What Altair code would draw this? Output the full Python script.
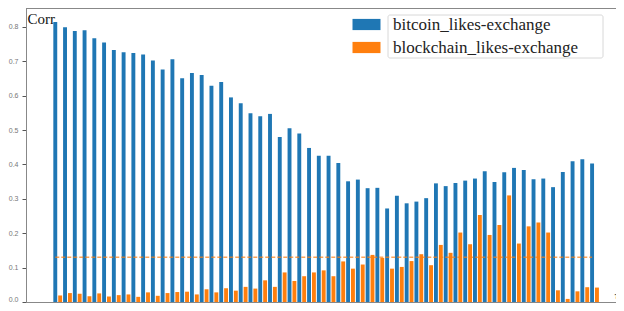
import altair as alt
import pandas as pd

lags = list(range(56))

bitcoin = [0.814, 0.799, 0.788, 0.790, 0.767, 0.755, 0.733, 0.726, 0.724, 0.720,
           0.702, 0.676, 0.706, 0.651, 0.666, 0.660, 0.629, 0.640, 0.595, 0.578,
           0.549, 0.540, 0.547, 0.480, 0.505, 0.490, 0.448, 0.425, 0.425, 0.404,
           0.351, 0.356, 0.331, 0.332, 0.272, 0.309, 0.287, 0.292, 0.302, 0.345,
           0.337, 0.346, 0.353, 0.359, 0.380, 0.349, 0.377, 0.390, 0.384, 0.357,
           0.359, 0.334, 0.378, 0.409, 0.415, 0.403]

blockchain = [0.019, 0.026, 0.024, 0.017, 0.025, 0.016, 0.020, 0.022, 0.015, 0.028,
              0.018, 0.026, 0.029, 0.030, 0.022, 0.037, 0.028, 0.040, 0.033, 0.044,
              0.039, 0.063, 0.044, 0.086, 0.061, 0.075, 0.086, 0.092, 0.075, 0.118,
              0.097, 0.109, 0.137, 0.128, 0.097, 0.102, 0.119, 0.139, 0.107, 0.166,
              0.143, 0.202, 0.168, 0.253, 0.195, 0.224, 0.310, 0.170, 0.220, 0.231,
              0.202, 0.034, 0.009, 0.031, 0.043, 0.042]

threshold = 0.13

series_names = ["bitcoin_likes-exchange", "blockchain_likes-exchange"]
series_colors = ["#1f77b4", "#ff7f0e"]
series_offsets = [0.0, 0.5]
x_ticks = [0, 10, 20, 30, 40, 50]
y_ticks = [0.0, 0.1, 0.2, 0.3, 0.4, 0.5, 0.6, 0.7, 0.8]

rows = []
for name, vals, off in zip(series_names, [bitcoin, blockchain], series_offsets):
    for lag, v in zip(lags, vals):
        rows.append({"lag": lag, "value": v, "series": name, "off": off})
df = pd.DataFrame(rows)
thr_df = pd.DataFrame({"lag": lags, "thr": [threshold] * len(lags)})

W, H = 590, 294
xscale = alt.Scale(domain=[-3, 57.45], nice=False, zero=False)
yscale = alt.Scale(domain=[0, 0.855], nice=False)

x_axis = alt.Axis(values=x_ticks, title="τ", grid=False, format="d",
                  labelFontSize=7, labelColor="#888", tickSize=3,
                  tickColor="#555", domainColor="#888", labelOverlap=False,
                  titleFont="Liberation Serif", titleFontStyle="italic",
                  titleFontSize=11, titleFontWeight="bold",
                  titleAnchor="start", titleX=588, titleY=-2,
                  titleBaseline="bottom", titleColor="#111")
y_axis = alt.Axis(values=y_ticks, format=".1f", title="Corr", grid=False,
                  labelFontSize=7, labelColor="#777", tickSize=4,
                  labelPadding=4, tickColor="#555", domainColor="#888",
                  labelOverlap=False, labelFlush=True, labelBound=False,
                  titleFont="Liberation Serif", titleFontSize=15,
                  titleFontWeight="normal", titleAngle=0,
                  titleAlign="left", titleBaseline="alphabetic",
                  titleX=1, titleY=15, titleColor="#111")

bars = alt.Chart(df).transform_calculate(
    x1="datum.lag + datum.off - 0.2",
    x2="datum.lag + datum.off + 0.2",
).mark_bar().encode(
    x=alt.X("x1:Q", scale=xscale, axis=x_axis),
    x2="x2:Q",
    y=alt.Y("value:Q", scale=yscale, axis=y_axis),
    y2=alt.datum(0),
    color=alt.Color("series:N",
                    scale=alt.Scale(domain=series_names, range=series_colors),
                    legend=alt.Legend(
                        title=None, orient="none", legendX=332, legendY=8,
                        symbolType="M-2,-0.8H2V0.8H-2Z", symbolSize=196,
                        symbolStrokeWidth=0, symbolOpacity=1,
                        labelFont="Liberation Serif", labelFontSize=17,
                        labelColor="#222", labelOffset=18, rowPadding=5,
                        labelLimit=400)),
)

thr_line = alt.Chart(thr_df).mark_line(
    strokeDash=[4, 2], strokeWidth=1.5, color="#ff7f0e", opacity=0.7
).encode(
    x=alt.X("lag:Q", scale=xscale, axis=x_axis),
    y=alt.Y("thr:Q", scale=yscale, axis=y_axis),
)

top_spine = alt.Chart(alt.Data(values=[{}])).mark_rule(
    color="#888", strokeWidth=1
).encode(x=alt.value(0), x2=alt.value(W), y=alt.value(0.5))

frame = alt.Chart(alt.Data(values=[{}])).mark_rect(
    fill="white", stroke="#d8d8d8", strokeWidth=1, cornerRadius=2
).encode(
    x=alt.value(362), x2=alt.value(577), y=alt.value(7), y2=alt.value(50)
)

chart = alt.layer(bars, thr_line, top_spine, frame).properties(
    width=W, height=H,
    autosize=alt.AutoSizeParams(type="none"),
    padding={"left": 18, "top": 0, "right": 0, "bottom": 1},
).configure_view(stroke=None).configure_axis(
    labelOverlap=False
).configure(background="white")

chart.save("out.html", embed_options={"renderer": "svg", "actions": False})
